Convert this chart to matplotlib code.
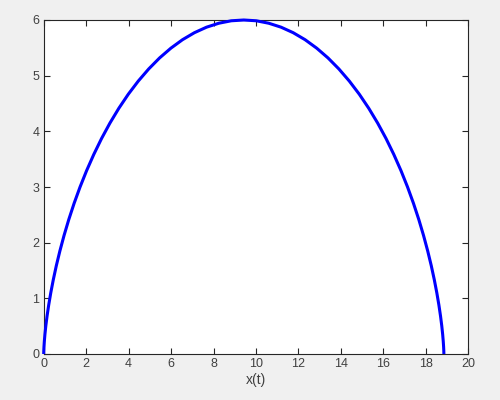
import matplotlib
matplotlib.use("Agg")
import matplotlib.pyplot as plt

# points (x(t), y(t))
x_vals = [0.0, 0.0005, 0.004, 0.013, 0.030, 0.058, 0.100, 0.158, 0.235, 0.332,
          0.451, 0.594, 0.763, 0.958, 1.181, 1.432, 1.712, 2.021, 2.359, 2.725,
          3.119, 3.539, 3.985, 4.455, 4.947, 5.460, 5.991, 6.538, 7.099, 7.670,
          8.250, 8.836, 9.425, 10.014, 10.600, 11.180, 11.751, 12.312, 12.859,
          13.390, 13.903, 14.395, 14.865, 15.311, 15.731, 16.125, 16.491, 16.829,
          17.138, 17.418, 17.669, 17.892, 18.087, 18.256, 18.399, 18.518, 18.615,
          18.692, 18.750, 18.792, 18.820, 18.837, 18.846, 18.849, 18.850]
y_vals = [0.0, 0.015, 0.058, 0.129, 0.228, 0.354, 0.506, 0.681, 0.879, 1.097,
          1.333, 1.586, 1.852, 2.129, 2.415, 2.706, 3.0, 3.294, 3.585, 3.871,
          4.148, 4.414, 4.667, 4.903, 5.121, 5.319, 5.494, 5.646, 5.772, 5.871,
          5.942, 5.986, 6.0, 5.986, 5.942, 5.871, 5.772, 5.646, 5.494,
          5.319, 5.121, 4.903, 4.667, 4.414, 4.148, 3.871, 3.585, 3.294,
          3.0, 2.706, 2.415, 2.129, 1.852, 1.586, 1.333, 1.097, 0.879,
          0.681, 0.506, 0.354, 0.228, 0.129, 0.058, 0.015, 0.0]
x_ticks = list(range(0, 21, 2))
y_ticks = list(range(0, 7))

plt.rcParams['font.family'] = ['Liberation Sans', 'DejaVu Sans']

fig = plt.figure(figsize=(5, 4), dpi=100, facecolor='#f0f0f0')
ax = fig.add_axes([0.0874, 0.115, 0.8492, 0.835])
ax.set_facecolor('white')

ax.plot(x_vals, y_vals, color='#0000ff', linewidth=2.2, clip_on=False, zorder=3,
        solid_joinstyle='round', solid_capstyle='butt')

ax.set_xlim(0, 20)
ax.set_ylim(0, 6)
ax.set_xticks(x_ticks)
ax.set_yticks(y_ticks)
ax.tick_params(direction='in', length=4, width=0.8, top=True, right=True,
               colors='#262626', labelcolor='#404040', labelsize=9, pad=3)
for s in ax.spines.values():
    s.set_color('#262626')
    s.set_linewidth(0.8)
ax.set_xlabel('x(t)', fontsize=10, color='#404040', labelpad=2)

fig.savefig('out.png', dpi=100, facecolor=fig.get_facecolor())
